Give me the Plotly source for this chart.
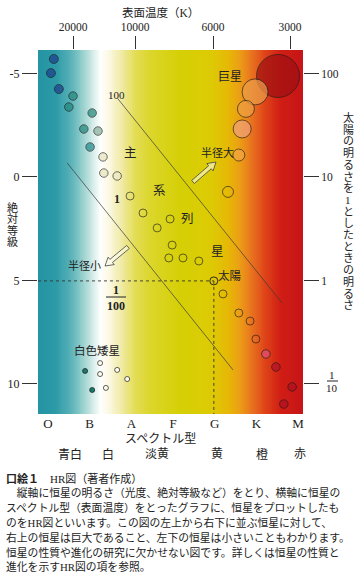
import numpy as np
import plotly.graph_objects as go

# ---------------- data ----------------
spectral_types = ['O', 'B', 'A', 'F', 'G', 'K', 'M']
spectral_pos = [0, 1, 2, 3, 4, 5, 6]
color_names = ['青白', '白', '淡黄', '黄', '橙', '赤']
color_pos = [0.53, 1.44, 2.62, 4.06, 5.14, 6.05]

temp_labels = ['20000', '10000', '6000', '3000']
temp_pos = [0.60, 2.09, 3.96, 5.81]

mag_ticks = [-5, 0, 5, 10]
mag_labels = ['-5', '0', '5', '10']
lum_labels = ['100', '10', '1', '']  # 1/10 drawn as a fraction

# main sequence (spectral position, absolute magnitude)
ms_spec = [0.14, 0.07, 0.26, 0.60, 0.50, 1.06, 0.86, 1.20, 1.01,
           1.32, 1.34, 1.66, 1.97, 2.28, 2.93, 2.62, 2.98, 2.90,
           3.24, 3.62, 4.20, 4.58, 4.85, 4.99, 5.23, 5.47, 5.86, 5.66]
ms_mag = [-5.70, -5.02, -4.25, -3.91, -3.38, -3.09, -2.32, -2.22, -1.45,
          -0.97, -0.19, -0.05, 0.92, 1.74, 2.03, 2.46, 3.29, 3.91,
          3.91, 4.06, 5.65, 6.57, 6.96, 7.83, 8.55, 9.18, 10.14, 10.97]
ms_fill = ['#1d3d8c', '#1d3d8c', '#1d3d8c', '#22887c', '#22887c', '#22887c',
           '#22887c', '#86ae98', '#1f8a8e',
           '#e6e3bb', '#e6e3bb', '#ece8c4', 'rgba(0,0,0,0)', 'rgba(0,0,0,0)',
           'rgba(0,0,0,0)', 'rgba(0,0,0,0)', 'rgba(0,0,0,0)', 'rgba(0,0,0,0)',
           'rgba(0,0,0,0)', 'rgba(0,0,0,0)', 'rgba(0,0,0,0)', 'rgba(0,0,0,0)',
           'rgba(0,0,0,0)', 'rgba(0,0,0,0)', '#e0507a', '#b8122a', '#b01020',
           '#b01020']
ms_size = [9, 9, 9, 8.5, 8.5, 8.5, 8.5, 8.5, 8.5,
           8.5, 8.5, 8.5, 8, 8, 8, 8, 8, 8,
           8, 8, 8, 8, 8, 8, 8.5, 8.5, 8.5, 8.5]

sun_spec = [3.98]
sun_mag = [5.02]

# giants
giant_spec = [5.52, 4.97, 4.75, 4.66, 4.58, 4.32]
giant_mag = [-4.88, -4.11, -3.29, -2.32, -1.06, 0.72]
giant_diam = [43, 26, 17, 18, 12, 11]
giant_fill = ['#9e0f12', '#eba04a', '#eda043', '#f0a07c', '#f2a644', 'rgba(0,0,0,0)']

# white dwarfs
wd_spec = [0.89, 1.25, 1.66, 1.25, 1.90, 1.06, 1.39]
wd_mag = [9.37, 8.99, 9.32, 9.52, 9.76, 10.29, 10.19]
wd_fill = ['#1a7a6c', '#fffdf0', '#fffdf0', '#fffdf0', '#fffdf0', '#1a7a6c', '#fffdf0']

# guide lines (radius 100 and radius 1/100)
line100_spec = [1.68, 5.62]
line100_mag = [-3.77, 6.09]
line001_spec = [0.46, 4.44]
line001_mag = [-0.68, 9.32]

# ---------------- layout helpers ----------------
W, H = 360, 580
PX0, PX1, PY0, PY1 = 38, 303, 50, 414
XR = [-0.24, 6.12]
YR = [11.45, -6.135]
SERIF = "Liberation Serif, DejaVu Serif, serif"
JP = "Liberation Serif, Noto Sans CJK JP, sans-serif"
INK = '#222222'


def P(px, py):
    return px / W, 1 - py / H


annotations = []


def txt(px, py, text, size=11, family=JP, xanchor='center', color=INK):
    x, y = P(px, py)
    annotations.append(dict(x=x, y=y, xref='paper', yref='paper', text=text,
                            showarrow=False, xanchor=xanchor, yanchor='middle',
                            borderpad=0,
                            font=dict(family=family, size=size, color=color)))


fig = go.Figure()

# background gradient
gx = np.linspace(XR[0] - 0.1, XR[1] + 0.1, 300)
fig.add_trace(go.Heatmap(
    x=gx, y=[-9, 14], z=[gx, gx], zmin=XR[0], zmax=XR[1], zsmooth='best',
    showscale=False, hoverinfo='skip',
    colorscale=[
        [0.0, '#2494a3'], [0.064, '#2c9aa7'], [0.121, '#56b1b7'],
        [0.166, '#96cfcd'], [0.204, '#d2ebe7'], [0.234, '#ffffff'],
        [0.272, '#faf7dc'], [0.317, '#efe9a0'], [0.366, '#e3dd55'],
        [0.423, '#dbd62a'], [0.536, '#d6cf06'], [0.649, '#dccb04'],
        [0.717, '#e6b806'], [0.762, '#ec9c16'], [0.808, '#e87020'],
        [0.857, '#de4218'], [0.913, '#d01e14'], [1.0, '#c61418']]))

# guide lines
for xs, ys in [(line100_spec, line100_mag), (line001_spec, line001_mag)]:
    fig.add_trace(go.Scatter(x=xs, y=ys, mode='lines', hoverinfo='skip',
                             line=dict(color='#3a3a3a', width=0.7)))

# sun dotted lines
fig.add_trace(go.Scatter(x=[XR[0], sun_spec[0]], y=[sun_mag[0], sun_mag[0]], mode='lines',
                         hoverinfo='skip', line=dict(color='#333', width=0.9, dash='dot')))
fig.add_trace(go.Scatter(x=[sun_spec[0], sun_spec[0]], y=[sun_mag[0], YR[0]], mode='lines',
                         hoverinfo='skip', line=dict(color='#333', width=0.9, dash='dot')))

# stars
fig.add_trace(go.Scatter(x=ms_spec, y=ms_mag, mode='markers', hoverinfo='skip',
                         marker=dict(size=ms_size, color=ms_fill,
                                     line=dict(color='#1a1a1a', width=0.9))))
fig.add_trace(go.Scatter(x=sun_spec, y=sun_mag, mode='markers', hoverinfo='skip',
                         marker=dict(size=8, color='rgba(0,0,0,0)',
                                     line=dict(color='#1a1a1a', width=0.9))))
fig.add_trace(go.Scatter(x=giant_spec, y=giant_mag, mode='markers', hoverinfo='skip',
                         marker=dict(size=giant_diam, color=giant_fill,
                                     line=dict(color='#1a1a1a', width=0.9))))
fig.add_trace(go.Scatter(x=wd_spec, y=wd_mag, mode='markers', hoverinfo='skip',
                         marker=dict(size=5, color=wd_fill,
                                     line=dict(color='#1a1a1a', width=0.7))))
# dummy for secondary axes
fig.add_trace(go.Scatter(x=[XR[0]], y=[0], xaxis='x2', yaxis='y2', mode='markers',
                         marker=dict(opacity=0), hoverinfo='skip'))

# hollow arrows
shapes = []


def hollow_arrow(tail, head, sw=2.0, hw=4.8, hl=8.0):
    tx, ty = tail
    hx, hy = head
    dx, dy = hx - tx, hy - ty
    L = (dx * dx + dy * dy) ** 0.5
    ux, uy = dx / L, dy / L
    nx, ny = -uy, ux
    bx, by = hx - ux * hl, hy - uy * hl
    pts = [(tx + nx * sw, ty + ny * sw), (bx + nx * sw, by + ny * sw),
           (bx + nx * hw, by + ny * hw), (hx, hy),
           (bx - nx * hw, by - ny * hw), (bx - nx * sw, by - ny * sw),
           (tx - nx * sw, ty - ny * sw)]
    path = 'M ' + ' L '.join(f'{P(a, b)[0]:.5f},{P(a, b)[1]:.5f}' for a, b in pts) + ' Z'
    shapes.append(dict(type='path', path=path, xref='paper', yref='paper',
                       line=dict(color='#444', width=0.8),
                       fillcolor='rgba(255,255,240,0.55)'))


hollow_arrow((193, 182), (216, 162))
hollow_arrow((128, 247), (105, 266))

# fraction bars
for (x0, x1, y) in [(106, 126, 297), (327, 338, 381)]:
    a, b = P(x0, y)
    c, d = P(x1, y)
    shapes.append(dict(type='line', xref='paper', yref='paper', x0=a, y0=b, x1=c, y1=d,
                       line=dict(color=INK, width=1)))

# ---------------- texts ----------------
txt(160, 12, '表面温度（K）', 11.5)
txt(230, 77, '巨星', 12)
txt(116, 95, '100', 11, SERIF)
txt(130, 153, '主', 12.5)
txt(159, 191, '系', 12.5)
txt(187, 219, '列', 12.5)
txt(217, 252, '星', 12.5)
txt(117, 199, '<b>1</b>', 12, SERIF)
txt(217, 152, '半径大', 11)
txt(84, 266, '半径小', 11)
txt(230, 276, '太陽', 11.5)
txt(116, 290, '<b>1</b>', 12, SERIF)
txt(116, 306, '<b>100</b>', 12, SERIF)
txt(97, 350, '白色矮星', 11.5)
txt(332, 375, '1', 11, SERIF)
txt(332, 388, '10', 11, SERIF)

for i, ch in enumerate('絶対等級'):
    txt(13, 207 + i * 11.6, ch, 11)
for i, ch in enumerate('太陽の明るさを1としたときの明るさ'):
    txt(348, 118 + i * 11.7, ch, 11)

txt(160, 439, 'スペクトル型', 12)
for name, pos in zip(color_names, color_pos):
    annotations.append(dict(x=pos, y=P(0, 454)[1], xref='x', yref='paper', text=name,
                            showarrow=False, xanchor='center', yanchor='middle',
                            font=dict(family=JP, size=12, color=INK)))

txt(5, 478, '<b>口絵１</b>　HR図（著者作成）', 11, xanchor='left')
para = ['　縦軸に恒星の明るさ（光度、絶対等級など）をとり、横軸に恒星の',
        'スペクトル型（表面温度）をとったグラフに、恒星をプロットしたも',
        'のをHR図といいます。この図の左上から右下に並ぶ恒星に対して、',
        '右上の恒星は巨大であること、左下の恒星は小さいこともわかります。',
        '恒星の性質や進化の研究に欠かせない図です。詳しくは恒星の性質と',
        '進化を示すHR図の項を参照。']
for i, line in enumerate(para):
    txt(5, 492 + i * 15, line, 10.8, xanchor='left')

dom_x = [PX0 / W, PX1 / W]
dom_y = [1 - PY1 / H, 1 - PY0 / H]
axis_common = dict(showgrid=False, zeroline=False, showline=False, fixedrange=True)

fig.update_layout(
    width=W, height=H, margin=dict(l=0, r=0, t=0, b=0),
    paper_bgcolor='white', plot_bgcolor='white', showlegend=False,
    xaxis=dict(domain=dom_x, range=XR, tickvals=spectral_pos, ticktext=spectral_types,
               ticks='', anchor='y', tickfont=dict(family=SERIF, size=13, color=INK),
               **axis_common),
    yaxis=dict(domain=dom_y, range=YR, tickvals=mag_ticks, ticktext=mag_labels,
               ticks='outside', ticklen=15, tickwidth=1, tickcolor='#333', anchor='x',
               tickfont=dict(family=SERIF, size=12, color=INK), **axis_common),
    xaxis2=dict(domain=dom_x, range=XR, overlaying='x', side='top', anchor='y',
                tickvals=temp_pos, ticktext=temp_labels, ticks='outside', ticklen=13,
                tickwidth=1, tickcolor='#333',
                tickfont=dict(family=SERIF, size=11.5, color=INK), **axis_common),
    yaxis2=dict(domain=dom_y, range=YR, overlaying='y', side='right', anchor='x',
                tickvals=mag_ticks, ticktext=lum_labels, ticks='outside', ticklen=15,
                tickwidth=1, tickcolor='#333',
                tickfont=dict(family=SERIF, size=11.5, color=INK), **axis_common),
    annotations=annotations, shapes=shapes,
)

fig.write_html('out.html', config={'displayModeBar': False, 'staticPlot': True},
               post_script="document.body.style.margin='0';document.body.style.padding='0';")
